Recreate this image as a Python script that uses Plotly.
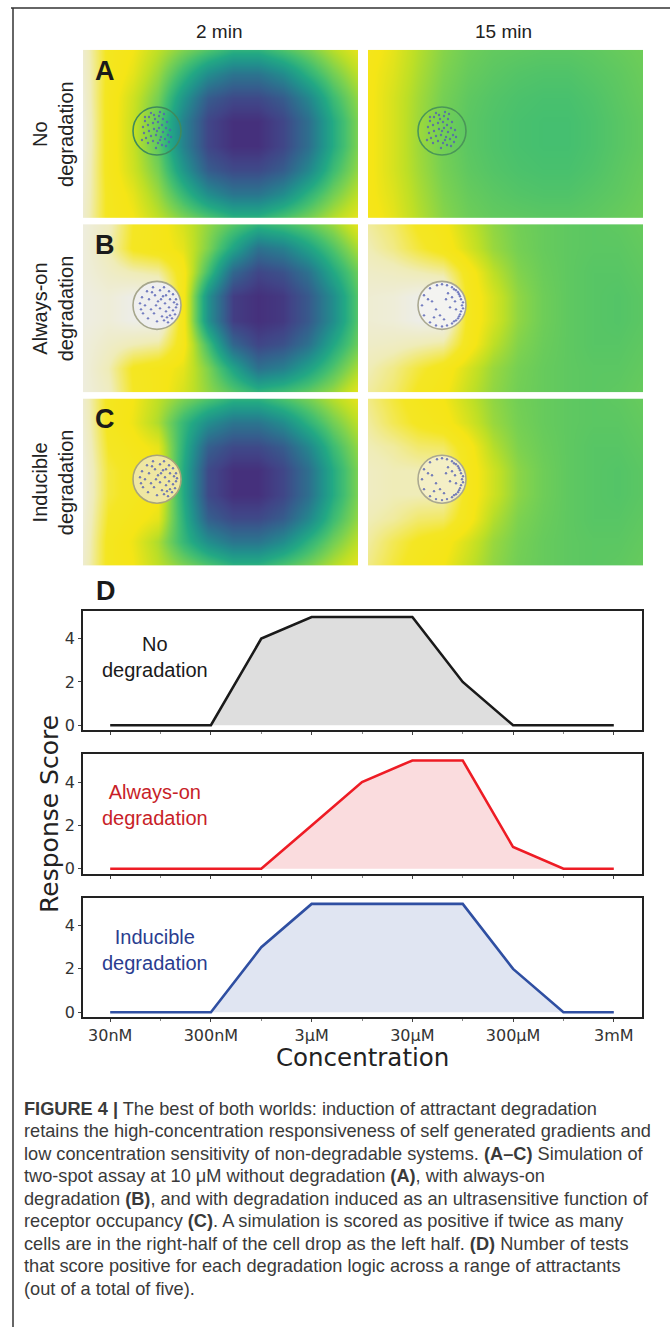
import plotly.graph_objects as go

# ---------------- data ----------------
CONC = ['30nM', '100nM', '300nM', '1µM', '3µM', '10µM', '30µM', '100µM', '300µM', '1mM', '3mM']
TICK_LABELS = ['30nM', '300nM', '3µM', '30µM', '300µM', '3mM']
SCORE_NO_DEG = [0, 0, 0, 4, 5, 5, 5, 2, 0, 0, 0]
SCORE_ALWAYS = [0, 0, 0, 0, 2, 4, 5, 5, 1, 0, 0]
SCORE_INDUC = [0, 0, 0, 3, 5, 5, 5, 5, 2, 0, 0]

COL_TITLES = ['2 min', '15 min']
ROW_TITLES = ['No<br>degradation', 'Always-on<br>degradation', 'Inducible<br>degradation']
PANEL_LETTERS = ['A', 'B', 'C']

# simulated attractant field (normalised), sampled on a coarse grid
GRID_X = [0, 25, 50, 75, 100, 125, 150, 175, 200, 225, 250, 275]
GRID_Y = [0, 24, 48, 72, 96, 120, 144, 168]

FIELD_A_2MIN = [
    [.94, .76, .72, .65, .58, .52, .46, .46, .515, .57, .64, .70],
    [.95, .76, .70, .61, .48, .35, .28, .28, .345, .46, .565, .65],
    [.96, .75, .67, .57, .38, .21, .16, .16, .21, .33, .49, .605],
    [.97, .75, .66, .54, .32, .15, .10, .10, .15, .26, .44, .58],
    [.97, .75, .66, .54, .32, .15, .10, .10, .15, .26, .44, .58],
    [.96, .75, .67, .57, .38, .21, .16, .16, .21, .33, .49, .605],
    [.95, .76, .70, .61, .48, .35, .28, .28, .345, .46, .565, .65],
    [.94, .76, .72, .65, .58, .52, .46, .46, .515, .57, .64, .70],
]
FIELD_A_15MIN = [
    [.74, .70, .64, .59, .56, .545, .54, .535, .535, .54, .55, .56],
    [.73, .69, .63, .58, .55, .535, .525, .52, .52, .53, .54, .555],
    [.73, .68, .62, .57, .54, .525, .515, .51, .51, .52, .535, .55],
    [.73, .68, .615, .565, .535, .52, .51, .505, .505, .515, .53, .545],
    [.73, .68, .615, .565, .535, .52, .51, .505, .505, .515, .53, .545],
    [.73, .68, .62, .57, .54, .525, .515, .51, .51, .52, .535, .55],
    [.73, .69, .63, .58, .55, .535, .525, .52, .52, .53, .54, .555],
    [.74, .70, .64, .59, .56, .545, .54, .535, .535, .54, .55, .56],
]
FIELD_B_2MIN = [
    [.97, .92, .78, .74, .68, .60, .53, .47, .50, .545, .61, .70],
    [.97, .90, .77, .74, .70, .58, .42, .27, .31, .41, .52, .63],
    [.97, .93, .90, .88, .74, .50, .24, .15, .18, .27, .43, .56],
    [.98, .96, .99, 1.0, .74, .36, .13, .10, .12, .20, .35, .53],
    [.98, .96, .99, 1.0, .74, .36, .13, .10, .12, .20, .35, .53],
    [.97, .93, .90, .88, .74, .50, .24, .15, .18, .27, .43, .56],
    [.97, .90, .77, .74, .70, .58, .42, .27, .31, .41, .52, .63],
    [.97, .92, .78, .74, .68, .60, .53, .47, .50, .545, .61, .70],
]
FIELD_B_15MIN = [
    [.88, .84, .77, .73, .66, .60, .565, .55, .54, .535, .54, .55],
    [.90, .86, .80, .75, .68, .61, .57, .55, .54, .535, .535, .545],
    [.93, .92, .90, .88, .75, .65, .585, .555, .54, .53, .53, .54],
    [.95, .96, .99, 1.0, .76, .68, .60, .56, .54, .53, .525, .535],
    [.95, .96, .99, 1.0, .76, .68, .60, .56, .54, .53, .525, .535],
    [.93, .92, .90, .88, .75, .65, .585, .555, .54, .53, .53, .54],
    [.90, .86, .80, .75, .68, .61, .57, .55, .54, .535, .535, .545],
    [.88, .84, .77, .73, .66, .60, .565, .55, .54, .535, .54, .55],
]
FIELD_C_2MIN = [
    [.94, .76, .72, .65, .58, .52, .46, .46, .515, .57, .64, .70],
    [.95, .76, .71, .63, .48, .35, .28, .28, .345, .46, .565, .65],
    [.96, .78, .74, .70, .46, .22, .16, .16, .21, .33, .49, .605],
    [.97, .80, .76, .73, .44, .16, .10, .10, .15, .26, .44, .58],
    [.97, .80, .76, .73, .44, .16, .10, .10, .15, .26, .44, .58],
    [.96, .78, .74, .70, .46, .22, .16, .16, .21, .33, .49, .605],
    [.95, .76, .71, .63, .48, .35, .28, .28, .345, .46, .565, .65],
    [.94, .76, .72, .65, .58, .52, .46, .46, .515, .57, .64, .70],
]
FIELD_C_15MIN = [
    [.86, .80, .75, .72, .66, .60, .565, .55, .54, .535, .54, .55],
    [.88, .82, .77, .74, .68, .61, .57, .55, .54, .535, .535, .545],
    [.90, .88, .84, .83, .74, .64, .58, .555, .54, .53, .53, .54],
    [.92, .90, .90, .90, .75, .67, .595, .56, .54, .53, .525, .535],
    [.92, .90, .90, .90, .75, .67, .595, .56, .54, .53, .525, .535],
    [.90, .88, .84, .83, .74, .64, .58, .555, .54, .53, .53, .54],
    [.88, .82, .77, .74, .68, .61, .57, .55, .54, .535, .535, .545],
    [.86, .80, .75, .72, .66, .60, .565, .55, .54, .535, .54, .55],
]

# cell drop (centre / radius in field units) and cell positions relative to the drop centre
DROP_X, DROP_Y, DROP_R = 74, 81, 24
CELLS_CORE_DX = [-12, -8, -3, 2, 6, 10, -14, -9, -4, 1, 5, 9, 13, -13, -8, -3, 2, 6, 11, -11, -6, -1, 4, 8, -9, -4, 1, 5, -1, 3, -6, 14, -15, 12, -2, 7, 9, -12, 0, 3]
CELLS_CORE_DY = [-10, -14, -16, -15, -12, -9, -4, -6, -8, -9, -6, -3, -1, 2, 0, -2, -3, 1, 4, 7, 5, 4, 6, 8, 12, 10, 12, 14, 17, -19, -18, 6, 9, 11, -12, -17, 15, -14, 0, 9]
CELLS_SPREAD_DX = [-15, -12, -14, -10, -8, -6, -9, -4, -2, -1, -3, 0, 3, 4, 3, 5, 7, 9, 8, 9, 7, 12, 13, 12, 13, 11, 16, 17, 16, 15, 19, 19, 18, -17, -16, -5, 1, 6, 10, 20]
CELLS_SPREAD_DY = [-8, 0, 8, -14, -6, 4, 13, -18, -10, 0, 8, 16, -15, -6, 3, 11, -18, -10, -2, 6, 15, -14, -6, 2, 10, 17, -11, -3, 5, 13, -6, 2, 9, -2, 4, -13, -4, -9, 12, -1]
CELLS_RIM_DX = [20, 19, 17, 14, 10, 5, 19, 17, 14, 10, 5, 21, 21, 18, 18, 16, 16, 12, 12, 0, -5, 0, -6, -12, -12, -18, -18, -20, 8, 4, -6, -2, 10, -10, 2, 6, -8, 14, 13, -14]
CELLS_RIM_DY = [0, -6, -11, -15, -18, -20, 6, 11, 15, 18, 20, 3, -3, -9, 9, -13, 13, -16, 16, -21, -20, 21, 20, 17, -17, -10, 10, 0, 2, -6, 4, 10, -8, -4, 14, -12, 12, 4, -4, -6]

CAPTION = [
    '<b>FIGURE 4 |</b> The best of both worlds: induction of attractant degradation',
    'retains the high-concentration responsiveness of self generated gradients and',
    'low concentration sensitivity of non-degradable systems. <b>(A–C)</b> Simulation of',
    'two-spot assay at 10 μM without degradation <b>(A)</b>, with always-on',
    'degradation <b>(B)</b>, and with degradation induced as an ultrasensitive function of',
    'receptor occupancy <b>(C)</b>. A simulation is scored as positive if twice as many',
    'cells are in the right-half of the cell drop as the left half. <b>(D)</b> Number of tests',
    'that score positive for each degradation logic across a range of attractants',
    '(out of a total of five).',
]

# ---------------- layout helpers ----------------
W, H = 670, 1332
def fx(px):
    return px / W
def fy(py):
    return 1 - py / H

VIRIDIS = ['#440154', '#482475', '#414487', '#355f8d', '#2a788e', '#21918c',
           '#22a884', '#44bf70', '#7ad151', '#bddf26', '#fde725']
COLORSCALE = [[0.72 * i / 10, c] for i, c in enumerate(VIRIDIS)]
COLORSCALE[-1][1] = '#f5e516'
COLORSCALE += [[0.78, '#f4e624'], [0.90, '#efecb8'], [1.0, '#ededed']]

SANS = 'Liberation Sans'
DEJ = 'DejaVu Sans'

fig = go.Figure()
layout = dict(width=W, height=H, margin=dict(l=0, r=0, t=0, b=0),
              paper_bgcolor='white', plot_bgcolor='white', showlegend=False)
shapes, annotations = [], []

def note(text, x, y, size, color='#222', family=SANS, angle=0, xanchor='center'):
    annotations.append(dict(text=text, x=fx(x), y=fy(y), xref='paper', yref='paper',
                            xanchor=xanchor, yanchor='middle', showarrow=False, textangle=angle,
                            align='center' if xanchor == 'center' else 'left',
                            font=dict(family=family, size=size, color=color)))

col_px = [(83, 358), (368, 643)]
row_px = [(50, 219), (225, 394), (400, 568)]
fields = [[FIELD_A_2MIN, FIELD_A_15MIN], [FIELD_B_2MIN, FIELD_B_15MIN], [FIELD_C_2MIN, FIELD_C_15MIN]]
drop_style = [
    [('rgba(0,0,0,0)', '#3f8a5c', CELLS_CORE_DX, CELLS_CORE_DY), ('rgba(0,0,0,0)', '#4a9658', CELLS_CORE_DX, CELLS_CORE_DY)],
    [('#efefef', '#a6a68c', CELLS_SPREAD_DX, CELLS_SPREAD_DY), ('#f3f3f1', '#aaa890', CELLS_RIM_DX, CELLS_RIM_DY)],
    [('#efe7a2', '#a8a47c', CELLS_SPREAD_DX, CELLS_SPREAD_DY), ('#f4efc6', '#aaa890', CELLS_RIM_DX, CELLS_RIM_DY)],
]

k = 0
for r in range(3):
    for c in range(2):
        k += 1
        xa = 'xaxis' if k == 1 else f'xaxis{k}'
        ya = 'yaxis' if k == 1 else f'yaxis{k}'
        xr = 'x' if k == 1 else f'x{k}'
        yr = 'y' if k == 1 else f'y{k}'
        fig.add_trace(go.Heatmap(z=fields[r][c], x=GRID_X, y=GRID_Y, colorscale=COLORSCALE,
                                 zmin=0, zmax=1, zsmooth='best', showscale=False,
                                 hoverinfo='skip', xaxis=xr, yaxis=yr))
        layout[xa] = dict(domain=[fx(col_px[c][0]), fx(col_px[c][1])], range=[0, 275], visible=False,
                          anchor=yr, fixedrange=True)
        layout[ya] = dict(domain=[fy(row_px[r][1]), fy(row_px[r][0])], range=[168, 0], visible=False,
                          anchor=xr, fixedrange=True)
        fill, line, dxs, dys = drop_style[r][c]
        # the cell drop
        fig.add_trace(go.Scatter(x=[DROP_X], y=[DROP_Y], mode='markers', hoverinfo='skip',
                                 marker=dict(size=2 * DROP_R, color=fill, line=dict(color=line, width=1.6)),
                                 xaxis=xr, yaxis=yr))
        # the cells
        fig.add_trace(go.Scatter(x=[DROP_X + d for d in dxs], y=[DROP_Y + d for d in dys], mode='markers',
                                 marker=dict(size=2.4, color='#5560b4', opacity=0.8),
                                 hoverinfo='skip', xaxis=xr, yaxis=yr))

# column titles, row titles, panel letters
for c, t in enumerate(COL_TITLES):
    note(t, (col_px[c][0] + col_px[c][1]) / 2 - 2, 32, 19)
for r, t in enumerate(ROW_TITLES):
    note(t, 53, (row_px[r][0] + row_px[r][1]) / 2, 20, angle=-90)
    note('<b>' + PANEL_LETTERS[r] + '</b>', 93, row_px[r][0] + 21, 27, color='#1a1a1a', xanchor='left')
note('<b>D</b>', 94, 593, 27, color='#1a1a1a', xanchor='left')

# ---------------- response score panels ----------------
xidx = list(range(len(CONC)))
tickvals = [CONC.index(t) for t in TICK_LABELS]
minorvals = [i for i in xidx if i not in tickvals]
series = [
    (SCORE_NO_DEG, '#1a1a1a', 'rgba(200,200,200,0.6)', 'No<br>degradation', '#1a1a1a', (613, 733), 659),
    (SCORE_ALWAYS, '#ee1c25', 'rgba(240,150,155,0.33)', 'Always-on<br>degradation', '#c81e28', (757, 877), 808),
    (SCORE_INDUC, '#2f4fa2', 'rgba(160,175,215,0.33)', 'Inducible<br>degradation', '#2a3d8f', (901, 1021), 954),
]
for i, (ys, lc, fc, label, tc, (top, bot), ty) in enumerate(series):
    k += 1
    xa, ya, xr, yr = f'xaxis{k}', f'yaxis{k}', f'x{k}', f'y{k}'
    fig.add_trace(go.Scatter(x=xidx, y=ys, mode='lines', line=dict(color=lc, width=2.6),
                             fill='tozeroy', fillcolor=fc, hoverinfo='skip', xaxis=xr, yaxis=yr))
    last = i == 2
    layout[xa] = dict(domain=[fx(83), fx(642)], range=[-0.54, 10.56], anchor=yr,
                      showline=True, mirror=True, linecolor='#222', linewidth=1.6,
                      showgrid=False, zeroline=False, ticks='outside', ticklen=3, tickcolor='#444',
                      tickvals=tickvals, ticktext=TICK_LABELS, showticklabels=last,
                      tickfont=dict(family=DEJ, size=16, color='#333'),
                      minor=dict(tickvals=minorvals, ticks='outside', ticklen=2, tickcolor='#888'))
    layout[ya] = dict(domain=[fy(bot), fy(top)], range=[-0.23, 5.29], anchor=xr,
                      showline=True, mirror=True, linecolor='#222', linewidth=1.6,
                      showgrid=False, zeroline=False, ticks='outside', ticklen=3, tickcolor='#444',
                      tickvals=[0, 2, 4], tickfont=dict(family=DEJ, size=16, color='#333'))
    note(label, 155, ty, 20, color=tc)

note('Response Score', 50, 817, 25, family=DEJ, angle=-90)
note('Concentration', 362, 1061, 24.5, family=DEJ)

# caption
for j, line in enumerate(CAPTION):
    note(line, 22, 1113 + j * 22.6, 18.2, color='#3a3a3a', xanchor='left')

# figure frame
shapes.append(dict(type='line', xref='paper', yref='paper', x0=fx(11), x1=1, y0=fy(8), y1=fy(8),
                   line=dict(color='#333', width=1.5)))
shapes.append(dict(type='line', xref='paper', yref='paper', x0=fx(13), x1=fx(13), y0=fy(8), y1=0,
                   line=dict(color='#333', width=1.5)))

layout['shapes'] = shapes
layout['annotations'] = annotations
fig.update_layout(**layout)
fig.write_html('out.html', config={'displayModeBar': False},
               post_script="document.body.style.margin='0';document.body.style.overflow='hidden';")
